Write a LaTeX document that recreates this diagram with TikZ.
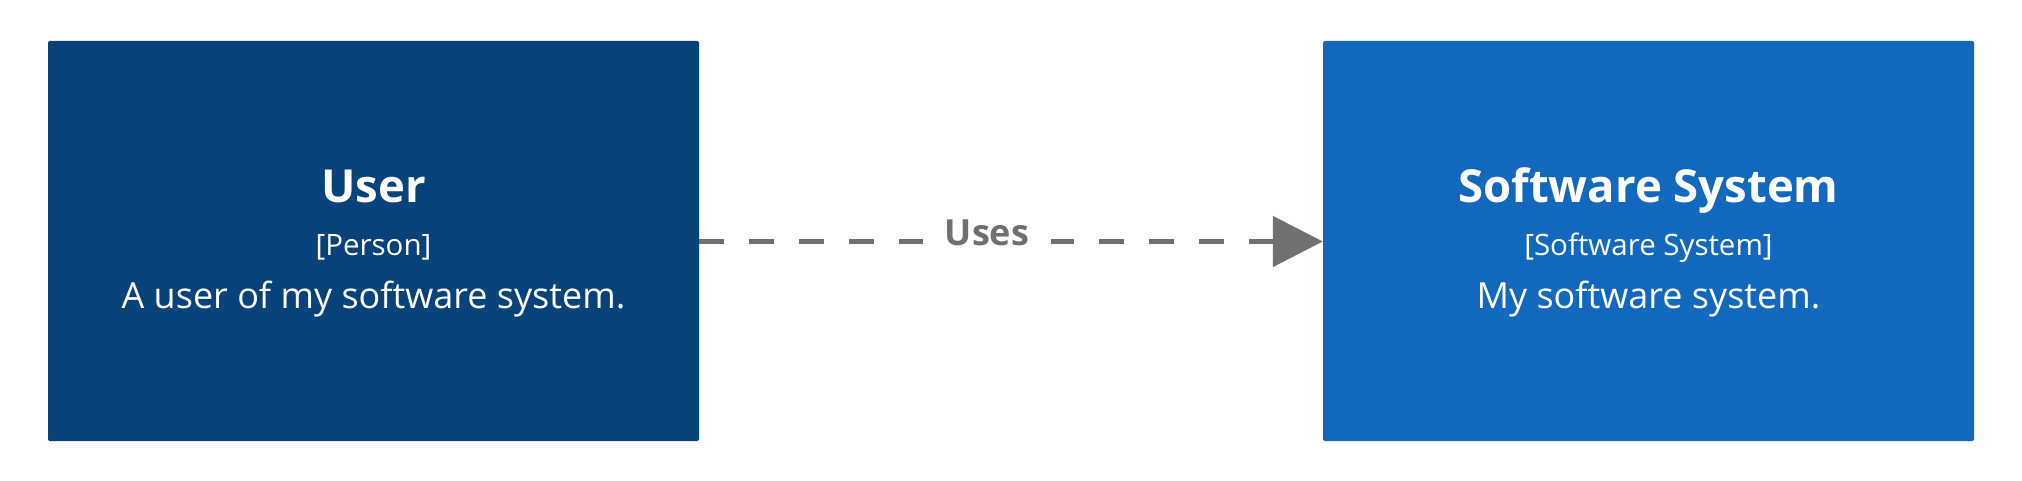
\documentclass[tikz,border=0pt]{standalone}
\usepackage{fontspec}
\setmainfont{Open Sans}
\usetikzlibrary{arrows.meta}
\definecolor{personblue}{HTML}{08427B}
\definecolor{systemblue}{HTML}{1168BD}
\definecolor{relgray}{HTML}{707070}
\tikzset{
  elembox/.style={rectangle, rounded corners=2pt, minimum width=651pt, minimum height=400pt, inner sep=0pt, draw=none},
  titletext/.style={text=white, anchor=base, inner sep=0pt, font=\fontsize{45.5}{54}\selectfont\bfseries},
  typetext/.style={text=white, anchor=base, inner sep=0pt, font=\fontsize{29.5}{35}\selectfont},
  desctext/.style={text=white, anchor=base, inner sep=0pt, font=\fontsize{36}{43}\selectfont},
  reltext/.style={text=relgray, fill=white, anchor=base, inner xsep=22pt, inner ysep=6pt, font=\fontsize{36}{43}\selectfont\bfseries},
  relline/.style={draw=relgray, line width=5pt, dash pattern=on 25pt off 25pt, -{Triangle[length=50pt, width=50pt]}}
}
\begin{document}
\begin{tikzpicture}[x=1pt, y=1pt]
\useasboundingbox (0,0) rectangle (2022,480);
\fill[white] (0,0) rectangle (2022,480);
\node[elembox, fill=personblue] (user) at (373.5,239) {};
\node[elembox, fill=systemblue] (sys) at (1648.5,239) {};
\node[titletext] (usertitle) at (373.5,277) {User};
\node[typetext] (usertype) at (373.5,224) {[Person]};
\node[desctext] (userdesc) at (373.5,172) {A user of my software system.};
\node[titletext] (systitle) at (1648.5,277) {Software System};
\node[typetext] (systype) at (1648.5,224) {[Software System]};
\node[desctext] (sysdesc) at (1648.5,172) {My software system.};
\coordinate (relstart) at (user.east |- 0,238.5);
\coordinate (relend) at (sys.west |- 0,238.5);
\draw[relline] (relstart) -- (relend);
\node[reltext] (uses) at (987,234) {Uses};
\end{tikzpicture}
\end{document}
